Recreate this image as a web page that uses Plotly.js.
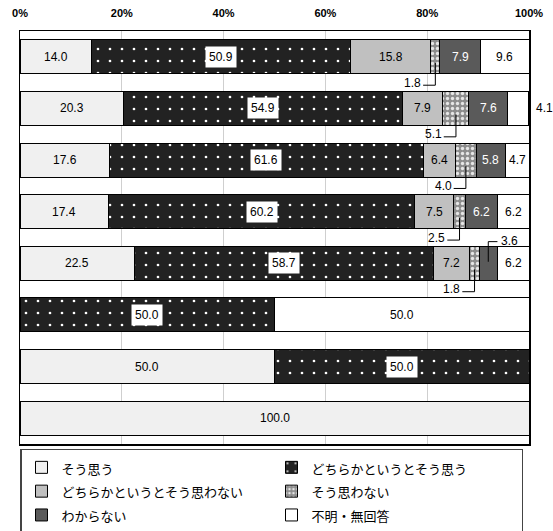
<!DOCTYPE html>
<html>
<head>
<meta charset="utf-8">
<script src="https://cdn.plot.ly/plotly-3.0.1.min.js"></script>
<style>
body{margin:0;background:#fff;}
#chart{width:553px;height:531px;}
</style>
</head>
<body>
<div id="chart"></div>
<script>
"use strict";

// rows top to bottom (no labels in the original)
var rows = [0, 1, 2, 3, 4, 5, 6, 7];
var seriesNames = ["そう思う", "どちらかというとそう思う", "どちらかというとそう思わない", "そう思わない", "わからない", "不明・無回答"];
var agree          = [14.0, 20.3, 17.6, 17.4, 22.5, 0,    50.0, 100.0];
var ratherAgree    = [50.9, 54.9, 61.6, 60.2, 58.7, 50.0, 50.0, 0];
var ratherDisagree = [15.8, 7.9,  6.4,  7.5,  7.2,  0,    0,    0];
var disagree       = [1.8,  5.1,  4.0,  2.5,  1.8,  0,    0,    0];
var dontKnow       = [7.9,  7.6,  5.8,  6.2,  3.6,  0,    0,    0];
var noAnswer       = [9.6,  4.1,  4.7,  6.2,  6.2,  50.0, 0,    0];
var tickVals = [0, 20, 40, 60, 80, 100];

// small values drawn outside the bar: [row, series, where]
var callouts = [[0, 3, "below"], [1, 3, "below"], [2, 3, "below"], [3, 3, "below"],
                [4, 3, "below"], [4, 4, "above"], [1, 5, "right"]];

var values = [agree, ratherAgree, ratherDisagree, disagree, dontKnow, noAnswer];
var numFont = "Arial, 'Liberation Sans', sans-serif";

var styles = [
    {color: "#f0f0f0"},
    {color: "#222222", pattern: {shape: ".", bgcolor: "#222222", fgcolor: "#ffffff", size: 12, solidity: 0.04}},
    {color: "#c0c0c0"},
    {color: "#9a9a9a", pattern: {shape: ".", bgcolor: "#8c8c8c", fgcolor: "#e6e6e6", size: 5, solidity: 0.35}},
    {color: "#5a5a5a"},
    {color: "#ffffff"}
];

var traces = [];
for(var s = 0; s < values.length; s++){
    var marker = {color: styles[s].color, line: {color: "#000", width: 1}};
    if(styles[s].pattern){
        marker.pattern = styles[s].pattern;
    }
    traces.push({
        type: "bar",
        orientation: "h",
        name: '<span style="font-size:13px">' + seriesNames[s] + '</span>',
        x: values[s],
        y: rows,
        width: 0.66,
        marker: marker,
        hoverinfo: "skip"
    });
}

function isCallout(r, s){
    for(var i = 0; i < callouts.length; i++){
        if(callouts[i][0] === r && callouts[i][1] === s) return callouts[i][2];
    }
    return null;
}

var annotations = [];
var shapes = [];
for(var r = 0; r < rows.length; r++){
    var start = 0;
    for(var s2 = 0; s2 < values.length; s2++){
        var v = values[s2][r];
        var cx = start + v / 2;
        start += v;
        if(!v) continue;
        var label = v.toFixed(1);
        var kind = isCallout(r, s2);
        var txtColor = (s2 === 4) ? "#ffffff" : "#000000";
        if(kind === "below"){
            shapes.push({type: "line", xref: "x", yref: "y", x0: cx, x1: cx, y0: rows[r] + 0.12, y1: rows[r] + 0.55, line: {color: "#000", width: 1}});
            shapes.push({type: "line", xref: "x", yref: "y", x0: cx - 2.4, x1: cx, y0: rows[r] + 0.55, y1: rows[r] + 0.55, line: {color: "#000", width: 1}});
            annotations.push({x: cx - 2.4, y: rows[r] + 0.5, xref: "x", yref: "y", text: label, showarrow: false,
                xanchor: "right", yanchor: "middle", font: {family: numFont, size: 12, color: "#000"}});
        }else if(kind === "above"){
            shapes.push({type: "line", xref: "x", yref: "y", x0: cx, x1: cx, y0: rows[r] - 0.03, y1: rows[r] - 0.42, line: {color: "#000", width: 1}});
            shapes.push({type: "line", xref: "x", yref: "y", x0: cx, x1: cx + 1.8, y0: rows[r] - 0.42, y1: rows[r] - 0.42, line: {color: "#000", width: 1}});
            annotations.push({x: cx + 2.2, y: rows[r] - 0.44, xref: "x", yref: "y", text: label, showarrow: false,
                xanchor: "left", yanchor: "middle", font: {family: numFont, size: 12, color: "#000"}});
        }else if(kind === "right"){
            annotations.push({x: 100, y: rows[r], xref: "x", yref: "y", text: label, showarrow: false, xshift: 5,
                xanchor: "left", yanchor: "middle", font: {family: numFont, size: 12, color: "#000"}});
        }else{
            var ann = {x: cx, y: rows[r], xref: "x", yref: "y", text: label, showarrow: false,
                xanchor: "center", yanchor: "middle", font: {family: numFont, size: 12, color: txtColor}};
            if(s2 === 1){
                ann.bgcolor = "#ffffff";
                ann.borderpad = 3;
            }
            annotations.push(ann);
        }
    }
}

var layout = {
    width: 553,
    height: 531,
    barmode: "stack",
    bargap: 0.34,
    paper_bgcolor: "#ffffff",
    plot_bgcolor: "#ffffff",
    margin: {l: 20, r: 24, t: 31, b: 87, autoexpand: false},
    showlegend: true,
    legend: {
        orientation: "h",
        x: 0, xanchor: "left",
        y: -0.012, yanchor: "top",
        entrywidth: 205,
        bordercolor: "#444",
        borderwidth: 1.5,
        bgcolor: "#fff",
        traceorder: "normal",
        font: {family: "'Noto Sans CJK JP', sans-serif", size: 16, color: "#000"}
    },
    xaxis: {
        side: "top",
        range: [0, 100],
        tickvals: tickVals,
        ticktext: tickVals.map(function(t){ return t + "%"; }),
        showgrid: true,
        gridcolor: "#cfcfcf",
        gridwidth: 1,
        zeroline: false,
        showline: true,
        mirror: true,
        linecolor: "#000",
        linewidth: 1.5,
        ticks: "",
        ticklabelstandoff: 8,
        tickfont: {family: numFont, size: 11, color: "#000", weight: "bold"},
        fixedrange: true
    },
    yaxis: {
        range: [7.5, -0.5],
        showticklabels: false,
        showgrid: false,
        zeroline: false,
        showline: true,
        mirror: true,
        linecolor: "#000",
        linewidth: 1.5,
        ticks: "",
        fixedrange: true
    },
    annotations: annotations,
    shapes: shapes
};

Plotly.newPlot("chart", traces, layout, {displayModeBar: false, staticPlot: true});
</script>
</body>
</html>
